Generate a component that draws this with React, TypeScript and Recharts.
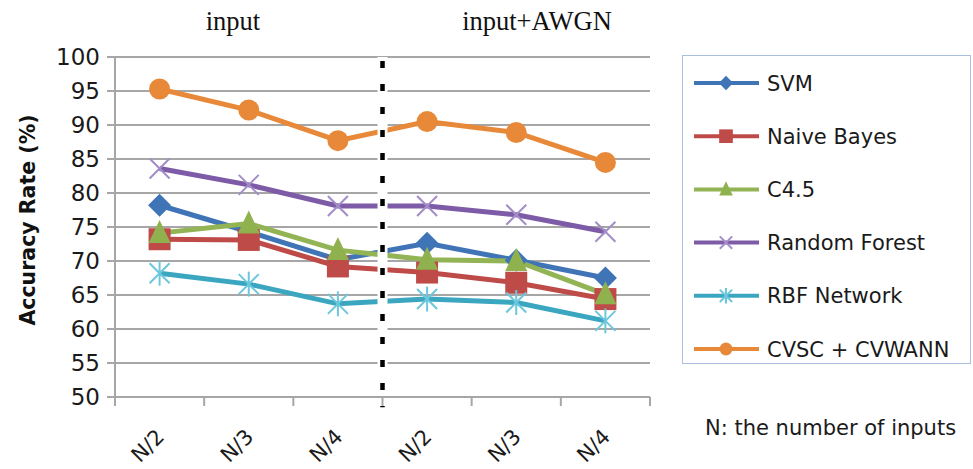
import React from 'react'
import { LineChart, Line, XAxis, YAxis, CartesianGrid, ReferenceLine, Legend } from 'recharts'

// accuracy per number of inputs, clean input (first 3) then input+AWGN (last 3)
const categories = ['N/2', 'N/3', 'N/4', 'N/2', 'N/3', 'N/4']
const svm = [78.2, 74.3, 70.2, 72.6, 70.1, 67.5]
const naiveBayes = [73.2, 73.1, 69.2, 68.3, 66.8, 64.4]
const c45 = [74.1, 75.5, 71.6, 70.2, 70.0, 65.1]
const randomForest = [83.6, 81.2, 78.1, 78.1, 76.8, 74.3]
const rbfNetwork = [68.2, 66.6, 63.7, 64.4, 63.9, 61.2]
const cvscCvwann = [95.3, 92.2, 87.7, 90.5, 88.9, 84.5]
const yTicks = [50, 55, 60, 65, 70, 75, 80, 85, 90, 95, 100]
const xTicks = [0, 0.5, 1, 1.5, 2, 2.5, 3, 3.5, 4, 4.5, 5, 5.5, 6]

const AXIS = '#A6A6A6'
const FONT = 'DejaVu Sans'

type Series = { key: string; name: string; color: string; mark: string; shape: string }
const series: Series[] = [
  { key: 'svm', name: 'SVM', color: '#3F74B6', mark: '#3F74B6', shape: 'diamond' },
  { key: 'nb', name: 'Naive Bayes', color: '#BE4B48', mark: '#BE4B48', shape: 'square' },
  { key: 'c45', name: 'C4.5', color: '#93B455', mark: '#8FB24E', shape: 'triangle' },
  { key: 'rf', name: 'Random Forest', color: '#7D5BA6', mark: '#A38DC9', shape: 'x' },
  { key: 'rbf', name: 'RBF Network', color: '#3AA6C0', mark: '#6CC7DD', shape: 'star' },
  { key: 'cvsc', name: 'CVSC + CVWANN', color: '#E8893A', mark: '#E8893A', shape: 'circle' },
]

const data = categories.map((c, i) => ({
  x: i + 0.5,
  cat: c,
  svm: svm[i],
  nb: naiveBayes[i],
  c45: c45[i],
  rf: randomForest[i],
  rbf: rbfNetwork[i],
  cvsc: cvscCvwann[i],
}))

const Marker = ({ cx, cy, shape, color, s = 1 }: any) => {
  if (shape === 'diamond') {
    const r = 11.5 * s
    return <polygon points={`${cx},${cy - r} ${cx + r},${cy} ${cx},${cy + r} ${cx - r},${cy}`} fill={color} />
  }
  if (shape === 'square') {
    const r = 11 * s
    return <rect x={cx - r} y={cy - r} width={2 * r} height={2 * r} fill={color} />
  }
  if (shape === 'triangle') {
    const r = 11 * s
    return <polygon points={`${cx},${cy - 13 * s} ${cx + r},${cy + 10 * s} ${cx - r},${cy + 10 * s}`} fill={color} />
  }
  if (shape === 'x') {
    const r = 10 * s
    return (
      <g stroke={color} strokeWidth={2}>
        <line x1={cx - r} y1={cy - r} x2={cx + r} y2={cy + r} />
        <line x1={cx - r} y1={cy + r} x2={cx + r} y2={cy - r} />
      </g>
    )
  }
  if (shape === 'star') {
    const r = 10 * s
    return (
      <g stroke={color} strokeWidth={2}>
        <line x1={cx - r} y1={cy - r} x2={cx + r} y2={cy + r} />
        <line x1={cx - r} y1={cy + r} x2={cx + r} y2={cy - r} />
        <line x1={cx} y1={cy - r * 1.25} x2={cx} y2={cy + r * 1.25} />
      </g>
    )
  }
  return <circle cx={cx} cy={cy} r={10.5 * s} fill={color} />
}

const XTick = (props: any) => {
  const { x, y, payload } = props
  const v = payload.value
  if (Number.isInteger(v)) {
    return <line x1={x} x2={x} y1={y} y2={y + 9} stroke={AXIS} strokeWidth={2} />
  }
  const ex = x + 6
  const ey = y + 41
  return (
    <text x={ex} y={ey} textAnchor="end" transform={`rotate(-45 ${ex} ${ey})`}
      fontFamily={FONT} fontSize={21} fill="#1a1a1a">
      {categories[Math.floor(v)]}
    </text>
  )
}

const LegendBox = () => (
  <svg width={289} height={309} style={{ display: 'block' }}>
    {series.map((s, i) => {
      const y = 27 + i * 53.2
      return (
        <g key={s.key}>
          <line x1={11} x2={76} y1={y} y2={y} stroke={s.color} strokeWidth={4} />
          <Marker cx={43} cy={y} shape={s.shape} color={s.mark} s={0.62} />
          <text x={84} y={y} dy="0.36em" fontFamily={FONT} fontSize={21} fill="#1a1a1a">{s.name}</text>
        </g>
      )
    })}
  </svg>
)

export default function App() {
  return (
    <div style={{ position: 'absolute', left: 0, top: 0, width: 973, height: 469, background: '#fff' }}>
      <LineChart width={973} height={469} data={data} margin={{ top: 57, right: 323, bottom: 0, left: 0 }}>
        <CartesianGrid vertical={false} stroke={AXIS} strokeWidth={2} />
        <XAxis dataKey="x" type="number" domain={[0, 6]} ticks={xTicks} interval={0}
          tick={<XTick />} tickLine={false} tickSize={0} tickMargin={0} height={72}
          axisLine={{ stroke: AXIS, strokeWidth: 2 }} />
        <YAxis domain={[50, 100]} ticks={yTicks} interval={0} width={115}
          tickSize={8} tickMargin={7} tickLine={{ stroke: AXIS, strokeWidth: 2 }}
          axisLine={{ stroke: AXIS, strokeWidth: 2 }}
          tick={{ fill: '#1a1a1a', fontSize: 23, fontFamily: FONT }} />
        {series.map((s) => (
          <Line key={s.key} type="linear" dataKey={s.key} name={s.name} stroke={s.color} strokeWidth={5}
            isAnimationActive={false} activeDot={false}
            dot={(p: any) => <Marker key={`${s.key}-${p.index}`} cx={p.cx} cy={p.cy} shape={s.shape} color={s.mark} />} />
        ))}
        <ReferenceLine segment={[{ x: 3, y: 100 }, { x: 3, y: 48.5 }]} ifOverflow="visible" stroke="#fff" strokeWidth={10} />
        <ReferenceLine segment={[{ x: 3, y: 100 }, { x: 3, y: 48.5 }]} ifOverflow="visible" stroke="#000" strokeWidth={4.5} strokeDasharray="7 16" strokeDashoffset={-4} />
        <Legend content={() => <LegendBox />} layout="horizontal" verticalAlign="middle" align="center"
          wrapperStyle={{ position: 'absolute', left: 682, top: 55, width: 289, height: 309, border: '1.5px solid #A9BFDD', boxSizing: 'border-box', background: '#fff' }} />
      </LineChart>
      <svg width={973} height={469} style={{ position: 'absolute', left: 0, top: 0, pointerEvents: 'none' }}>
        <text x={233} y={30} textAnchor="middle" fontFamily="Liberation Serif" fontSize={26.5} fill="#111">input</text>
        <text x={537} y={30} textAnchor="middle" fontFamily="Liberation Serif" fontSize={26.5} fill="#111">input+AWGN</text>
        <text x={28} y={220} textAnchor="middle" dy="0.36em" transform="rotate(-90 28 220)"
          fontFamily={FONT} fontWeight="bold" fontSize={20.5} fill="#111">Accuracy Rate (%)</text>
        <text x={705} y={427} dy="0.36em" fontFamily={FONT} fontSize={21} fill="#1a1a1a">N: the number of inputs</text>
      </svg>
    </div>
  )
}
